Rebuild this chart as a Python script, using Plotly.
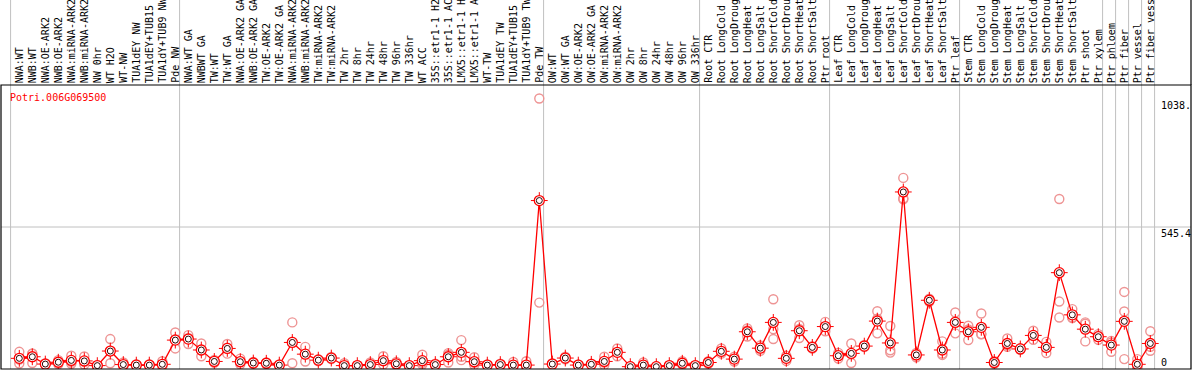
import plotly.graph_objects as go

# ---------------- data ----------------
labels = [
    "NWA:WT", "NWB:WT", "NWA:OE-ARK2", "NWB:OE-ARK2", "NWA:miRNA-ARK2", "NWB:miRNA-ARK2",
    "NW 0hr", "WT H2O", "WT-NW", "TUA1dEY NW", "TUA1dEY+TUB15", "TUA1dY+TUB9 NW", "Pde NW",
    "NWA:WT GA", "NWBWT GA", "TW:WT", "TW:WT GA", "NWA:OE-ARK2 GA", "NWB:OE-ARK2 GA",
    "TW:OE-ARK2", "TW:OE-ARK2 GA", "NWA:miRNA-ARK2", "NWB:miRNA-ARK2", "TW:miRNA-ARK2",
    "TW:miRNA-ARK2", "TW 2hr", "TW 8hr", "TW 24hr", "TW 48hr", "TW 96hr", "TW 336hr",
    "WT ACC", "35S::etr1-1 H2", "35S::etr1-1 AC", "LMX5::etr1-1 H", "LMX5::etr1-1 A",
    "WT-TW", "TUA1dEY TW", "TUA1dEY+TUB15", "TUA1dY+TUB9 TW", "Pde TW",
    "OW:WT", "OW:WT GA", "OW:OE-ARK2", "OW:OE-ARK2 GA", "OW:miRNA-ARK2", "OW:miRNA-ARK2",
    "OW 2hr", "OW 8hr", "OW 24hr", "OW 48hr", "OW 96hr", "OW 336hr",
    "Root CTR", "Root LongCold", "Root LongDroug", "Root LongHeat", "Root LongSalt",
    "Root ShortCold", "Root ShortDrou", "Root ShortHeat", "Root ShortSalt", "Ptr root",
    "Leaf CTR", "Leaf LongCold", "Leaf LongDroug", "Leaf LongHeat", "Leaf LongSalt",
    "Leaf ShortCold", "Leaf ShortDrou", "Leaf ShortHeat", "Leaf ShortSalt", "Ptr leaf",
    "Stem CTR", "Stem LongCold", "Stem LongDroug", "Stem LongHeat", "Stem LongSalt",
    "Stem ShortCold", "Stem ShortDrou", "Stem ShortHeat", "Stem ShortSalt", "Ptr shoot",
    "Ptr xylem", "Ptr phloem", "Ptr fiber", "Ptr vessel", "Ptr fiber vess",
]

means = [
    41, 47, 19, 26, 33, 31, 13, 69, 17, 15, 15, 18, 111,
    115, 73, 29, 79, 28, 23, 22, 15, 102, 57, 34, 42, 13, 13, 17, 32, 20, 13, 32, 17,
    47, 64, 28, 15, 17, 15, 15, 647,
    19, 42, 15, 18, 29, 64, 9, 15, 9, 13, 22, 13,
    25, 68, 38, 143, 80, 179, 41, 147, 83, 163,
    51, 60, 88, 184, 100, 680, 54, 264, 73, 179,
    143, 160, 25, 98, 77, 129, 83, 370, 208, 153, 124,
    92, 183, 18, 98,
]

replicates = [
    [66, 36, 21], [60, 58, 23], [22, 19, 16], [34, 26, 18], [51, 28, 20], [48, 28, 17],
    [15, 13, 11], [115, 70, 22], [25, 15, 11], [18, 15, 12], [18, 14, 13], [30, 14, 10],
    [140, 114, 79],
    [130, 119, 96], [98, 72, 49], [35, 28, 24], [96, 82, 59], [40, 26, 18], [27, 22, 20],
    [25, 22, 19], [17, 15, 13], [179, 105, 22], [85, 57, 29], [38, 34, 30], [46, 42, 38],
    [22, 10, 7], [15, 13, 11], [25, 15, 11], [49, 30, 17], [27, 18, 15], [15, 13, 11],
    [55, 24, 17], [20, 17, 14], [55, 61, 25], [111, 47, 34], [45, 24, 15], [17, 15, 13],
    [20, 17, 14], [27, 10, 8], [30, 8, 7], [1038.9, 255],
    [22, 19, 16], [47, 42, 37], [17, 15, 13], [20, 18, 16], [47, 25, 15], [79, 64, 49],
    [11, 9, 7], [25, 12, 8], [11, 9, 7], [15, 13, 11], [30, 20, 16], [15, 13, 11],
    [30, 25, 20], [79, 66, 59], [47, 38, 29], [156, 148, 125], [90, 80, 70],
    [268, 153, 115], [51, 41, 31], [168, 154, 119], [88, 83, 78], [181, 163, 145],
    [62, 51, 40], [98, 59, 23], [92, 88, 84], [222, 193, 137], [165, 72, 63],
    [734, 655, 652], [62, 55, 45], [270, 264, 258], [106, 59, 54], [217, 183, 137],
    [166, 152, 111], [213, 134, 133], [30, 25, 20], [117, 92, 85], [80, 77, 74],
    [147, 128, 112], [104, 84, 61], [653, 259, 198], [230, 198, 196], [179, 174, 106],
    [134, 126, 112],
    [108, 102, 66], [296, 221, 38], [38, 9, 7], [145, 85, 70],
]

group_starts = [0, 13, 41, 53, 63, 73, 84, 85, 86, 87, 88]
gene_name = "Potri.006G069500"
y_max = 1090.8
y_labels = ["1038.", "545.4", "0"]
y_label_values = [1038.9, 545.4, 0]

# ---------------- layout constants (pixels) ----------------
W, H = 1194, 370
PLOT_L, PLOT_R = 1, 1191
PLOT_T, PLOT_B = 85, 369
X0_PX, STEP_PX = 19.3, 13.0

def px_to_x(px):
    return (px - X0_PX) / STEP_PX

def py_to_paper(py):
    return (PLOT_B - py) / (PLOT_B - PLOT_T)

FONT = "DejaVu Sans Mono"
RED = "#ff0000"
PINK = "#ee9494"
GRID = "#c0c0c0"

idx = list(range(len(labels)))

fig = go.Figure()

# replicate points
rx, ry = [], []
for i, vals in enumerate(replicates):
    for v in vals:
        rx.append(i)
        ry.append(v)
fig.add_trace(go.Scatter(
    x=rx, y=ry, mode="markers", hoverinfo="skip",
    marker=dict(symbol="circle-open", size=9, color=PINK, line=dict(width=1.4, color=PINK)),
))

# mean line
fig.add_trace(go.Scatter(
    x=idx, y=means, mode="lines", line=dict(color=RED, width=1.3), hoverinfo="skip",
))
# mean marker ticks
fig.add_trace(go.Scatter(
    x=idx, y=means, mode="markers", hoverinfo="skip",
    marker=dict(symbol="cross-thin-open", size=12, color=RED, line=dict(width=1, color=RED)),
))
# mean marker circles
fig.add_trace(go.Scatter(
    x=idx, y=means, mode="markers",
    marker=dict(symbol="circle", size=10, color="white", line=dict(width=1.3, color=RED)),
    text=labels, hovertemplate="%{text}: %{y}<extra></extra>",
))
# mean marker inner dark ring
fig.add_trace(go.Scatter(
    x=idx, y=means, mode="markers", hoverinfo="skip",
    marker=dict(symbol="circle-open", size=6, color="#300000", line=dict(width=1, color="#300000")),
))

shapes = []
top_paper = py_to_paper(0)
# group separators
for k in group_starts:
    xs = k - 0.67
    shapes.append(dict(type="line", xref="x", yref="paper", x0=xs, x1=xs, y0=0, y1=top_paper,
                       line=dict(color=GRID, width=1), layer="below"))
# mid gridline
shapes.append(dict(type="line", xref="paper", yref="y", x0=0, x1=1, y0=y_label_values[1],
                   y1=y_label_values[1], line=dict(color=GRID, width=1), layer="below"))
# plot border
shapes.append(dict(type="rect", xref="paper", yref="paper", x0=0, x1=1, y0=0, y1=1,
                   line=dict(color="black", width=1.2)))
# right border extended through label area
shapes.append(dict(type="line", xref="paper", yref="paper", x0=1, x1=1, y0=1, y1=top_paper,
                   line=dict(color="black", width=1.2)))

annotations = []
label_bottom = py_to_paper(83)
for i, lab in enumerate(labels):
    annotations.append(dict(
        x=i, y=label_bottom, xref="x", yref="paper", text=lab, showarrow=False,
        textangle=-90, xanchor="center", yanchor="bottom", borderpad=0, borderwidth=0,
        font=dict(family=FONT, size=10, color="black"),
    ))

annotations.append(dict(
    x=px_to_x(10), y=py_to_paper(97), xref="x", yref="paper", text=gene_name,
    showarrow=False, xanchor="left", yanchor="middle", borderpad=0, borderwidth=0,
    font=dict(family=FONT, size=10, color=RED),
))

for lab, val in zip(y_labels, y_label_values):
    annotations.append(dict(
        x=px_to_x(1161), y=val, xref="x", yref="y", text=lab, showarrow=False,
        xanchor="left", yanchor="bottom" if val == 0 else "top",
        borderpad=0, borderwidth=0, yshift=1 if val == 0 else -1,
        font=dict(family=FONT, size=10, color="black"),
    ))

fig.update_layout(
    width=W, height=H,
    margin=dict(l=PLOT_L, r=W - PLOT_R, t=PLOT_T, b=H - PLOT_B, pad=0),
    paper_bgcolor="white", plot_bgcolor="white",
    showlegend=False,
    xaxis=dict(range=[px_to_x(PLOT_L), px_to_x(PLOT_R)], visible=False, fixedrange=True),
    yaxis=dict(range=[0, y_max], visible=False, fixedrange=True),
    shapes=shapes, annotations=annotations,
)

fig.write_html(
    "out.html",
    config={"displayModeBar": False},
    post_script="document.body.style.margin='0';document.body.style.padding='0';",
)
